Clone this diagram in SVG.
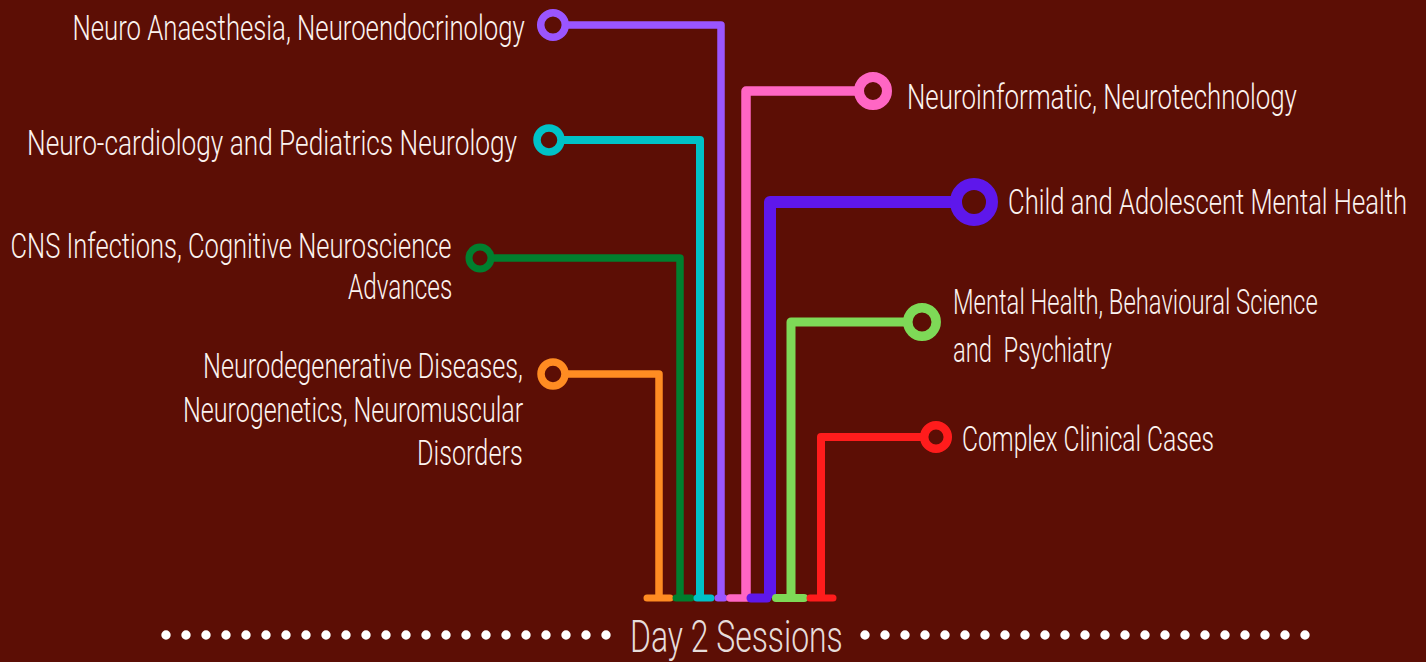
<svg xmlns="http://www.w3.org/2000/svg" width="1426" height="662" viewBox="0 0 1426 662">
<style>
.lbl{font-family:Roboto,"Liberation Sans",sans-serif;font-weight:300;font-size:36px;fill:#fbf3f0}
.ttl{font-family:Roboto,"Liberation Sans",sans-serif;font-weight:300;font-size:45px;fill:#e6dcda}
.ln{fill:none;stroke-linejoin:round;stroke-linecap:butt}
.bar{stroke-linecap:round}
.ring{fill:#5c0e05}
.dots{stroke:#ffffff;stroke-width:9.4;stroke-linecap:round;stroke-dasharray:0 20}
</style>
<rect width="1426" height="662" fill="#5c0e05"/>
<g id="connectors">
  <polyline class="ln" points="553,25 721,25 721,598" stroke="#9a55ff" stroke-width="7.5"/>
  <polyline class="ln" points="873,91 746,91 746,598" stroke="#ff66c4" stroke-width="9.5"/>
  <polyline class="ln" points="549,140 700,140 700,598" stroke="#00c2c7" stroke-width="8"/>
  <polyline class="ln" points="974,202 770,202 770,598" stroke="#5e17eb" stroke-width="12"/>
  <polyline class="ln" points="480,258 680,258 680,598" stroke="#007f2e" stroke-width="7.5"/>
  <polyline class="ln" points="922,322 791,322 791,598" stroke="#7ed957" stroke-width="9"/>
  <polyline class="ln" points="553,374 659,374 659,598" stroke="#ff8c22" stroke-width="7.5"/>
  <polyline class="ln" points="936,437 821,437 821,598" stroke="#ff1c1c" stroke-width="8"/>
  <line class="bar" x1="647" y1="598" x2="670" y2="598" stroke="#ff8c22" stroke-width="7"/>
  <line class="bar" x1="676" y1="598" x2="691" y2="598" stroke="#007f2e" stroke-width="7"/>
  <line class="bar" x1="697" y1="598" x2="711" y2="598" stroke="#00c2c7" stroke-width="7"/>
  <line class="bar" x1="718" y1="598" x2="724" y2="598" stroke="#9a55ff" stroke-width="7"/>
  <line class="bar" x1="730" y1="598" x2="747" y2="598" stroke="#ff66c4" stroke-width="7.5"/>
  <line class="bar" x1="751" y1="598" x2="767" y2="598" stroke="#5e17eb" stroke-width="9"/>
  <line class="bar" x1="776" y1="598" x2="804" y2="598" stroke="#7ed957" stroke-width="8"/>
  <line class="bar" x1="810" y1="598" x2="833" y2="598" stroke="#ff1c1c" stroke-width="7"/>
</g>
<g id="node-neuro-anaesthesia">
  <circle class="ring" cx="553" cy="25" r="12.3" stroke="#9a55ff" stroke-width="7.5"/>
  <text class="lbl" transform="translate(72.5,40) scale(0.7,1)" textLength="646" lengthAdjust="spacingAndGlyphs">Neuro Anaesthesia, Neuroendocrinology</text>
</g>
<g id="node-neuroinformatic">
  <circle class="ring" cx="873" cy="91" r="14" stroke="#ff66c4" stroke-width="10"/>
  <text class="lbl" transform="translate(907,109) scale(0.7,1)" textLength="557" lengthAdjust="spacingAndGlyphs">Neuroinformatic, Neurotechnology</text>
</g>
<g id="node-neuro-cardiology">
  <circle class="ring" cx="549" cy="140" r="12" stroke="#00c2c7" stroke-width="7.5"/>
  <text class="lbl" transform="translate(27,155) scale(0.7,1)" textLength="700" lengthAdjust="spacingAndGlyphs">Neuro-cardiology and Pediatrics Neurology</text>
</g>
<g id="node-child-adolescent">
  <circle class="ring" cx="974" cy="202" r="18" stroke="#5e17eb" stroke-width="12"/>
  <text class="lbl" transform="translate(1008,214) scale(0.7,1)" textLength="570" lengthAdjust="spacingAndGlyphs">Child and Adolescent Mental Health</text>
</g>
<g id="node-cns-infections">
  <circle class="ring" cx="480" cy="258" r="11" stroke="#007f2e" stroke-width="7"/>
  <text class="lbl" transform="translate(10.5,258) scale(0.7,1)" textLength="630" lengthAdjust="spacingAndGlyphs">CNS Infections, Cognitive Neuroscience</text>
  <text class="lbl" transform="translate(348,299) scale(0.7,1)" textLength="149" lengthAdjust="spacingAndGlyphs">Advances</text>
</g>
<g id="node-mental-health">
  <circle class="ring" cx="922" cy="322" r="14.2" stroke="#7ed957" stroke-width="9.5"/>
  <text class="lbl" transform="translate(953,314) scale(0.7,1)" textLength="521" lengthAdjust="spacingAndGlyphs">Mental Health, Behavioural Science</text>
  <text class="lbl" transform="translate(953,362) scale(0.7,1)" textLength="227" lengthAdjust="spacingAndGlyphs" style="white-space:pre">and  Psychiatry</text>
</g>
<g id="node-neurodegenerative">
  <circle class="ring" cx="553" cy="374" r="12" stroke="#ff8c22" stroke-width="7.5"/>
  <text class="lbl" transform="translate(203,378) scale(0.7,1)" textLength="457" lengthAdjust="spacingAndGlyphs">Neurodegenerative Diseases,</text>
  <text class="lbl" transform="translate(183,422) scale(0.7,1)" textLength="486" lengthAdjust="spacingAndGlyphs">Neurogenetics, Neuromuscular</text>
  <text class="lbl" transform="translate(417,465) scale(0.7,1)" textLength="151" lengthAdjust="spacingAndGlyphs">Disorders</text>
</g>
<g id="node-complex-cases">
  <circle class="ring" cx="936" cy="437" r="11.8" stroke="#ff1c1c" stroke-width="8.5"/>
  <text class="lbl" transform="translate(962,451) scale(0.7,1)" textLength="360" lengthAdjust="spacingAndGlyphs">Complex Clinical Cases</text>
</g>
<g id="title">
  <line class="dots" x1="166" y1="635" x2="606.5" y2="635"/>
  <text class="ttl" transform="translate(630,652) scale(0.7,1)" textLength="304" lengthAdjust="spacingAndGlyphs">Day 2 Sessions</text>
  <line class="dots" x1="865" y1="635" x2="1305.5" y2="635"/>
</g>
</svg>
